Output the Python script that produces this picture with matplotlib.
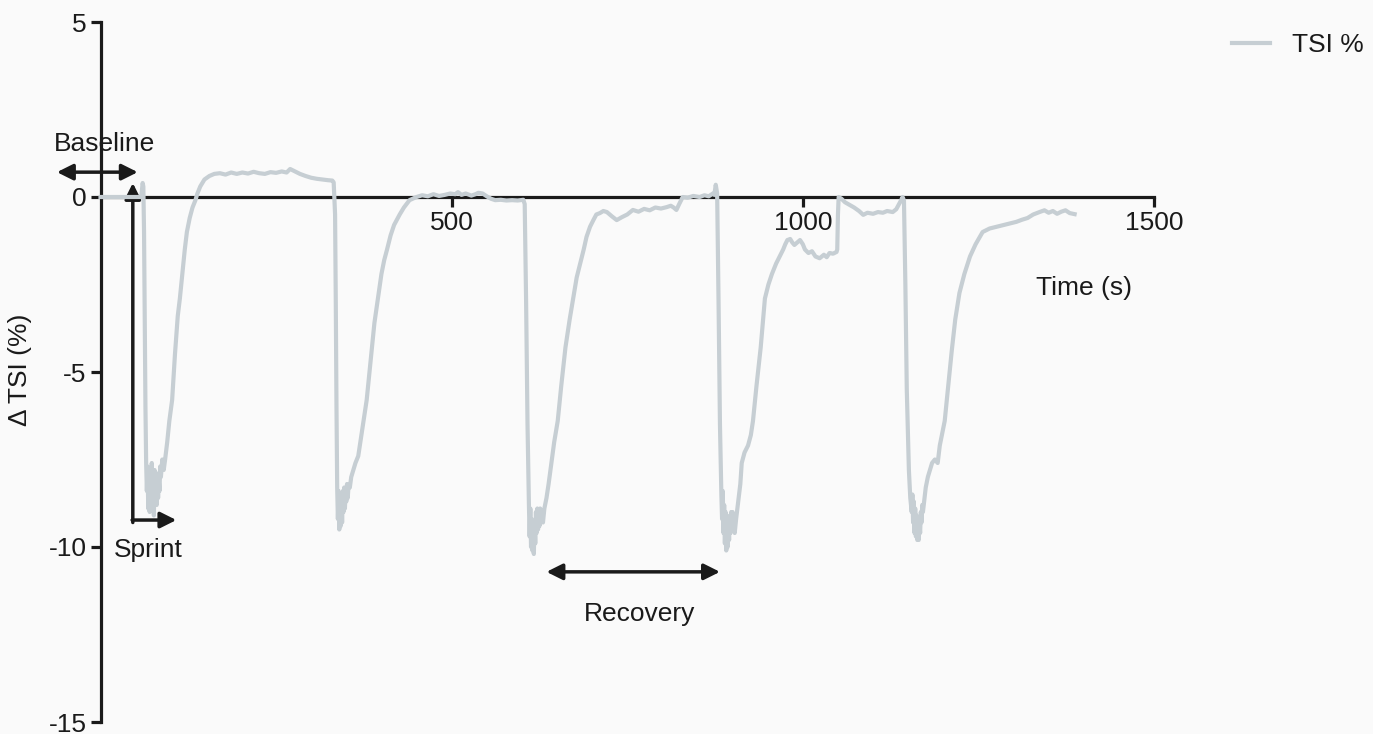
import matplotlib
matplotlib.use("Agg")
import matplotlib.pyplot as plt

plt.rcParams['font.family'] = ['Liberation Sans', 'DejaVu Sans']
plt.rcParams['axes.unicode_minus'] = False

time_s = [0, 20, 40, 58, 60, 61, 62, 63, 64, 65, 66, 67, 68, 69, 70, 71, 72, 73, 74, 75, 76, 77, 78, 79, 80,
          81, 82, 83, 84, 85, 86, 88, 90, 92, 95, 98, 102, 106, 110, 113, 117, 120, 123, 127, 131, 135, 138,
          142, 148, 155, 162, 170, 178, 186, 194, 202, 210, 218, 226, 234, 242, 250, 258, 265, 270, 276, 284,
          292, 300, 308, 316, 324, 330, 332,
          334, 335, 336, 337, 338, 339, 340, 341, 342, 343, 344, 345, 346, 347, 348, 349, 350, 351, 352, 353,
          355, 357, 360, 363, 367, 373, 379, 385, 390, 395, 400, 404, 408, 413, 418, 422, 426, 432, 440, 450,
          458, 466, 474, 482, 490, 498, 505, 509, 514, 520, 528, 534, 538, 544, 550, 556, 562, 570, 578, 586,
          594, 602,
          604, 606, 608, 610, 611, 612, 613, 614, 615, 616, 617, 618, 619, 620, 621, 622, 623, 624, 625, 626,
          628, 630, 632, 635, 638, 642, 646, 651, 656, 662, 668, 673, 678, 683, 688, 692, 697, 702, 706, 711,
          716, 721, 728, 735, 742, 750, 758, 766, 774, 782, 790, 798, 806, 812, 816, 820, 824, 829, 836, 844,
          853, 860, 866, 872, 874, 876,
          878, 880, 882, 884, 885, 886, 887, 888, 889, 890, 891, 892, 893, 894, 895, 896, 897, 898, 899, 900,
          901, 903, 905, 908, 911, 913, 917, 922, 926, 929, 934, 940, 946, 951, 956, 962, 967, 972, 975, 978,
          982, 985, 988, 992, 996, 1000, 1003, 1008, 1013, 1018, 1024, 1030, 1034, 1038, 1043, 1048, 1049,
          1050, 1051, 1055, 1060, 1067, 1073, 1080, 1086, 1092, 1100, 1107, 1114, 1120, 1128, 1133, 1137,
          1140, 1142,
          1144, 1146, 1148, 1151, 1153, 1155, 1156, 1157, 1158, 1159, 1160, 1161, 1162, 1163, 1164, 1165,
          1166, 1167, 1168, 1169, 1170, 1171, 1173, 1175, 1178, 1181, 1184, 1188, 1192, 1195, 1198, 1202,
          1207, 1212, 1217, 1223, 1230, 1238, 1246, 1256, 1266, 1276, 1286, 1296, 1304, 1312, 1320, 1328,
          1337, 1344, 1350, 1356, 1362, 1368, 1374, 1380, 1387]

tsi_delta = [0, 0, 0, 0, 0.4, 0.3, -1.0, -3.5, -6.0, -7.6, -8.4, -7.7, -8.9, -8.1, -9.0, -7.9, -8.7, -7.6,
             -8.8, -8.0, -9.1, -7.8, -8.6, -8.2, -8.8, -7.9, -8.6, -8.1, -8.4, -7.7, -8.0, -7.5, -7.8, -7.5,
             -7.0, -6.4, -5.8, -4.5, -3.4, -2.9, -2.1, -1.5, -1.0, -0.6, -0.3, -0.1, 0.1, 0.3, 0.5, 0.6, 0.66,
             0.68, 0.64, 0.7, 0.66, 0.7, 0.67, 0.72, 0.68, 0.66, 0.71, 0.69, 0.73, 0.7, 0.8, 0.74, 0.66, 0.6,
             0.55, 0.52, 0.5, 0.48, 0.47, 0.42,
             -0.5, -3.0, -6.0, -8.3, -9.2, -8.4, -9.5, -8.6, -9.4, -8.5, -9.3, -8.4, -9.0, -8.3, -8.9, -8.4,
             -8.7, -8.2, -8.6, -8.3, -8.3, -8.0, -7.8, -7.6, -7.4, -6.6, -5.8, -4.6, -3.6, -2.9, -2.2, -1.8,
             -1.5, -1.1, -0.8, -0.65, -0.5, -0.3, -0.09, 0.0, 0.05, 0.02, 0.08, 0.03, 0.06, 0.1, 0.08, 0.14,
             0.06, 0.1, 0.04, 0.08, 0.12, 0.1, 0.02, -0.05, -0.09, -0.08, -0.1, -0.09, -0.1, -0.08,
             -0.2, -3.0, -6.5, -8.8, -9.7, -8.9, -10.0, -9.2, -10.1, -9.4, -10.2, -9.3, -9.9, -9.0, -9.6,
             -8.9, -9.5, -9.0, -9.4, -8.9, -9.2, -9.3, -8.9, -8.6, -8.2, -7.6, -7.0, -6.4, -5.4, -4.3, -3.5,
             -2.9, -2.3, -1.9, -1.5, -1.14, -0.85, -0.65, -0.5, -0.46, -0.4, -0.43, -0.55, -0.66, -0.58, -0.5,
             -0.37, -0.42, -0.34, -0.38, -0.3, -0.33, -0.29, -0.25, -0.3, -0.37, -0.2, 0.0, -0.02, 0.03, 0.0,
             0.05, 0.02, 0.1, 0.06, 0.35,
             0.1, -3.0, -6.5, -8.5, -9.2, -8.4, -9.6, -8.8, -9.9, -9.0, -10.1, -9.2, -10.0, -9.3, -9.8, -9.1,
             -9.6, -9.0, -9.5, -9.0, -9.3, -9.6, -9.2, -8.7, -8.2, -7.6, -7.3, -7.1, -6.8, -6.4, -5.4, -4.3,
             -2.9, -2.5, -2.2, -1.9, -1.7, -1.5, -1.35, -1.23, -1.2, -1.3, -1.37, -1.3, -1.23, -1.35, -1.5,
             -1.6, -1.55, -1.7, -1.75, -1.65, -1.72, -1.6, -1.62, -1.57, -1.5, -0.5, 0.0, -0.05, -0.15, -0.23,
             -0.3, -0.4, -0.51, -0.45, -0.48, -0.43, -0.45, -0.4, -0.43, -0.35, -0.2, -0.09, 0.0,
             -0.1, -2.5, -5.5, -7.8, -8.6, -9.0, -8.5, -9.3, -8.7, -9.6, -8.9, -9.7, -9.1, -9.8, -9.2, -9.8,
             -9.3, -9.6, -9.0, -9.3, -8.8, -9.0, -8.66, -8.3, -8.0, -7.8, -7.6, -7.5, -7.6, -7.1, -6.8, -6.4,
             -5.4, -4.4, -3.5, -2.74, -2.2, -1.7, -1.35, -1.0, -0.9, -0.85, -0.8, -0.75, -0.71, -0.65, -0.6,
             -0.5, -0.43, -0.38, -0.45, -0.4, -0.48, -0.42, -0.38, -0.46, -0.49]

x_ticks = [500, 1000, 1500]
y_ticks = [-15, -10, -5, 0, 5]

line_color = '#c6ced3'
ink = '#1a1a1a'
bg = '#fafafa'
fs = 19

fig = plt.figure(figsize=(13.73, 7.34), dpi=100, facecolor=bg)
ax = fig.add_axes([100.5 / 1373, 12 / 734, 1053.5 / 1373, 700 / 734])
ax.set_facecolor(bg)
ax.set_xlim(0, 1500)
ax.set_ylim(-15, 5)

ax.plot(time_s, tsi_delta, color=line_color, lw=3.0, label='TSI %', zorder=5, clip_on=False)

for s in ['top', 'right']:
    ax.spines[s].set_visible(False)
ax.spines['bottom'].set_position(('data', 0))
ax.spines['left'].set_position(('data', 0))
for s in ['bottom', 'left']:
    ax.spines[s].set_linewidth(2.3)
    ax.spines[s].set_color(ink)
    ax.spines[s].set_zorder(3)

ax.set_xticks(x_ticks)
ax.set_yticks(y_ticks)
ax.tick_params(axis='both', direction='out', length=7, width=2.3, color=ink,
               labelsize=fs, labelcolor=ink, pad=3)

ax.text(1401, -2.6, 'Time (s)', fontsize=fs, color=ink, ha='center', va='center')
fig.text(20 / 1373, 1 - 370 / 734, 'Δ TSI (%)', rotation=90, fontsize=fs, color=ink,
         ha='center', va='center')

arrow = dict(arrowstyle='<|-|>', color=ink, lw=2.5, mutation_scale=24, shrinkA=0, shrinkB=0)
ax.annotate('', xy=(-62, 0.71), xytext=(53, 0.71), arrowprops=arrow, annotation_clip=False)
ax.text(5, 1.52, 'Baseline', fontsize=fs, color=ink, ha='center', va='center')

ax.annotate('', xy=(635, -10.71), xytext=(882, -10.71), arrowprops=arrow, annotation_clip=False)
ax.text(767, -11.9, 'Recovery', fontsize=fs, color=ink, ha='center', va='center')

one = dict(arrowstyle='-|>', color=ink, lw=2.5, mutation_scale=24, shrinkA=0, shrinkB=0)
ax.annotate('', xy=(46, 0.4), xytext=(46, -9.3), arrowprops=one, annotation_clip=False)
ax.annotate('', xy=(108, -9.23), xytext=(45, -9.23), arrowprops=one, annotation_clip=False)
ax.text(68, -10.1, 'Sprint', fontsize=fs, color=ink, ha='center', va='center')

ax.legend(loc='center left', bbox_to_anchor=(1232 / 1373, 1 - 45 / 734), bbox_transform=fig.transFigure,
          frameon=False, fontsize=fs, handlelength=1.44, handletextpad=0.85,
          borderpad=0, borderaxespad=0, labelcolor=ink)

fig.savefig('out.png', dpi=100, facecolor=bg)
